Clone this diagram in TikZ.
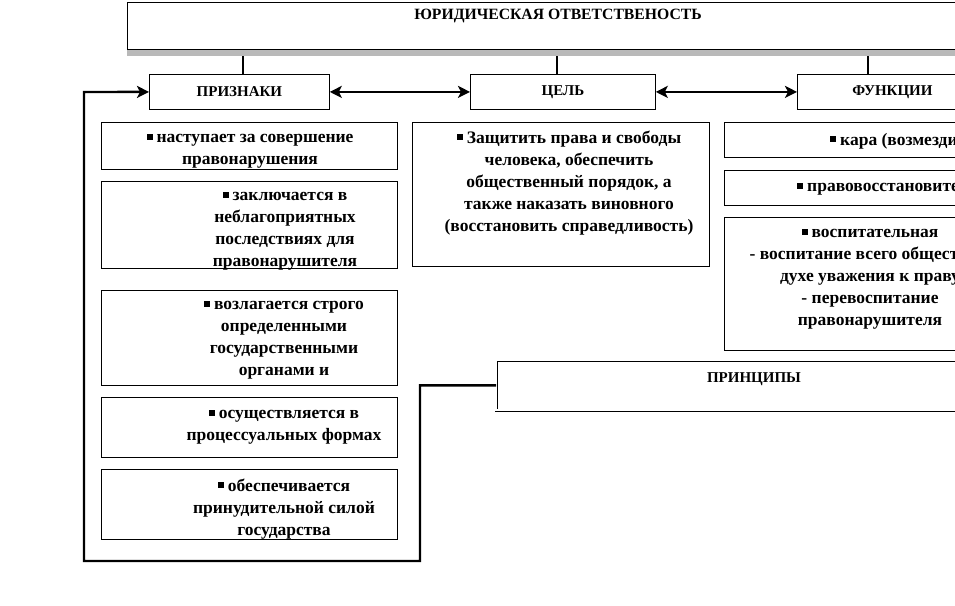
\documentclass[tikz,border=0pt]{standalone}
\usepackage{fontspec}
\setmainfont{Liberation Serif}
\usetikzlibrary{arrows.meta}
\newcommand\sqbul{\rule[3pt]{6pt}{6pt}\hspace{4pt}}
\tikzset{
  box/.style={draw=black, line width=0.8pt, rectangle, inner sep=0pt, anchor=north west},
  head/.style={font=\fontsize{15}{17}\selectfont\bfseries},
  body/.style={font=\fontsize{17.5}{22}\selectfont\bfseries, align=center, inner sep=0pt},
  conn/.style={line width=2.4pt, draw=black},
  mytip/.tip={Stealth[length=12pt,width=12pt,inset=3pt]},
}
\begin{document}
\begin{tikzpicture}[x=1pt,y=-1pt]
\useasboundingbox (0,0) rectangle (955,605);
\clip (0,0) rectangle (955,605);
% title
\fill[gray!55] (127,49) rectangle (1000,56);
\node[box, minimum width=863pt, minimum height=47pt] (title) at (127,2) {};
\node[head, font=\fontsize{15.7}{17}\selectfont\bfseries] (titlet) at (558,16) {ЮРИДИЧЕСКАЯ ОТВЕТСТВЕНОСТЬ};
% headers
\node[box, minimum width=180pt, minimum height=35pt, head] (priz) at (149,74) {ПРИЗНАКИ};
\node[box, minimum width=185pt, minimum height=35pt, head] (cel) at (470,74) {ЦЕЛЬ};
\node[box, minimum width=190pt, minimum height=35pt, head] (fun) at (797,74) {ФУНКЦИИ};
\coordinate (t1) at (243,56);
\coordinate (t2) at (557,56);
\coordinate (t3) at (868,56);
\draw[conn] (t1) -- (t1 |- priz.north);
\draw[conn] (t2) -- (t2 |- cel.north);
\draw[conn] (t3) -- (t3 |- fun.north);
\draw[conn, mytip-mytip] (priz.east) -- (cel.west);
\draw[conn, mytip-mytip] (cel.east) -- (fun.west);
% left column
\node[box, minimum width=296pt, minimum height=47pt] (p1) at (101,122) {};
\node[body] (p1t) at (250,151) {\sqbul наступает за совершение\\правонарушения};
\node[box, minimum width=296pt, minimum height=87pt] (p2) at (101,181) {};
\node[body] (p2t) at (285,231) {\sqbul заключается в\\неблагоприятных\\последствиях для\\правонарушителя};
\node[box, minimum width=296pt, minimum height=95pt] (p3) at (101,290) {};
\node[body] (p3t) at (284,340) {\sqbul возлагается строго\\определенными\\государственными\\органами и};
\node[box, minimum width=296pt, minimum height=60pt] (p4) at (101,397) {};
\node[body] (p4t) at (284,427) {\sqbul осуществляется в\\процессуальных формах};
\node[box, minimum width=296pt, minimum height=70pt] (p5) at (101,469) {};
\node[body] (p5t) at (284,509) {\sqbul обеспечивается\\принудительной силой\\государства};
% middle
\node[box, minimum width=297pt, minimum height=144pt] (c1) at (412,122) {};
\node[body] (c1t) at (569,183) {\sqbul Защитить права и свободы\\человека, обеспечить\\общественный порядок, а\\также наказать виновного\\(восстановить справедливость)};
% right column
\node[box, minimum width=300pt, minimum height=35pt] (f1) at (724,122) {};
\node[body, anchor=west] (f1t) at (830,141) {\sqbul кара (возмездие)};
\node[box, minimum width=300pt, minimum height=35pt] (f2) at (724,170) {};
\node[body, anchor=west] (f2t) at (797,189) {\sqbul правовосстановительная};
\node[box, minimum width=300pt, minimum height=133pt] (f3) at (724,217) {};
\node[body] (f3t) at (870,279) {\sqbul воспитательная\\- воспитание всего общества в\\духе уважения к праву\\- перевоспитание\\правонарушителя};
% principles
\node[box, double, double distance=2pt, line width=0.8pt, minimum width=520pt, minimum height=50pt] (prin) at (496,360) {};
\node[head] (print) at (754,379) {ПРИНЦИПЫ};
% loop connector
\coordinate (k1) at (420,561);
\coordinate (k2) at (84,92);
\draw[conn, -mytip] (prin.west) -| (k1) -| (k2) -- (priz.west);
\end{tikzpicture}
\end{document}
